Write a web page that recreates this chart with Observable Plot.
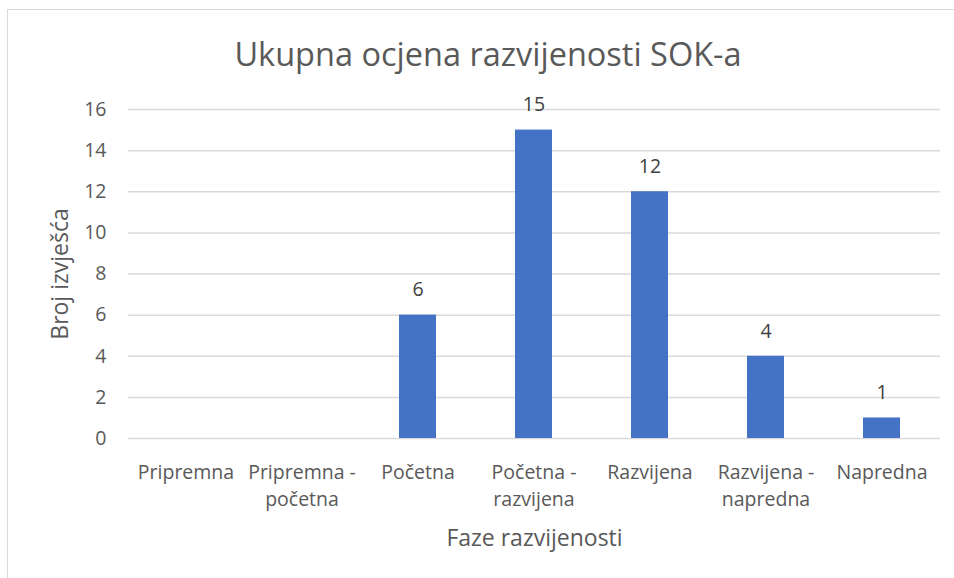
<!DOCTYPE html>
<html><head><meta charset="utf-8">
<script src="https://cdn.jsdelivr.net/npm/d3@7"></script>
<script src="https://cdn.jsdelivr.net/npm/@observablehq/plot@0.6"></script>
<style>
body{margin:0;background:#fff;font-family:"Open Sans",sans-serif;}
#wrap{position:relative;width:954px;height:578px;overflow:hidden;}
#frame{position:absolute;left:7px;top:9px;width:960px;height:600px;border:1.5px solid #d9d9d9;box-sizing:border-box;}
#title{position:absolute;left:7px;width:962px;top:33px;text-align:center;font-size:32.5px;color:#595959;line-height:42px;}
#chart{position:absolute;left:0;top:80px;}
</style></head>
<body><div id="wrap"><div id="frame"></div><div id="title">Ukupna ocjena razvijenosti SOK-a</div><div id="chart"></div></div>
<script>
const categories = ["Pripremna","Pripremna -\npočetna","Početna","Početna -\nrazvijena","Razvijena","Razvijena -\nnapredna","Napredna"];
const counts = [0,0,6,15,12,4,1];
const yTicks = [0,2,4,6,8,10,12,14,16];
const data = categories.map((c,i)=>({c, v: counts[i]}));
const labeled = data.filter(d=>d.v>0);
const chart = Plot.plot({
  width: 954, height: 498,
  marginLeft: 128, marginRight: 14, marginTop: 29, marginBottom: 140,
  style: {fontFamily: "'Open Sans', sans-serif", color: "#595959", background: "transparent"},
  x: {domain: categories, paddingInner: 0.68, paddingOuter: 0.34, label: null},
  y: {domain: [0,16], label: null},
  marks: [
    Plot.gridY(yTicks, {stroke: "#d9d9d9", strokeOpacity: 1, strokeWidth: 1.5}),
    Plot.barY(data, {x: "c", y: "v", fill: "#4472c4"}),
    Plot.text(labeled, {x: "c", y: "v", text: d=>String(d.v), dy: -25, fontSize: 19.5, fill: "#404040"}),
    Plot.axisY(yTicks, {tickSize: 0, tickPadding: 22, fontSize: 19.5, label: null}),
    Plot.axisX({tickSize: 0, tickPadding: 22, fontSize: 19.5, lineHeight: 1.35, label: null, textAnchor: "middle"}),
    Plot.text(["Broj izvješća"], {frameAnchor: "left", textAnchor: "middle", dx: -68, rotate: -90, fontSize: 23, fill: "#595959"}),
    Plot.text(["Faze razvijenosti"], {frameAnchor: "bottom", textAnchor: "middle", dy: 107, fontSize: 23, fill: "#595959"})
  ]
});
document.getElementById("chart").appendChild(chart);
</script></body></html>
